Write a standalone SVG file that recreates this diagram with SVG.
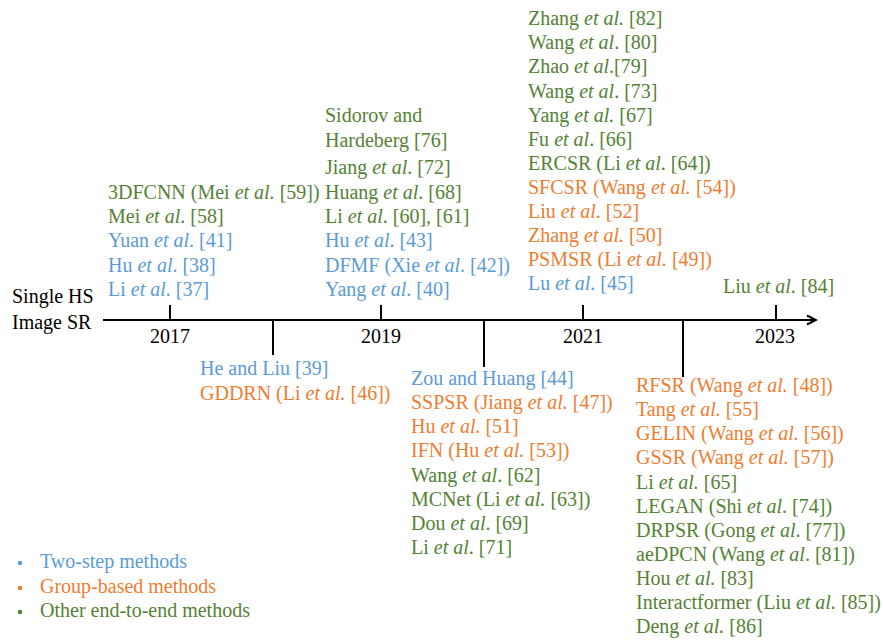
<svg xmlns="http://www.w3.org/2000/svg" width="883" height="641" viewBox="0 0 883 641">
<defs>
<marker id="arr" markerWidth="12" markerHeight="12" refX="10" refY="6" orient="auto" markerUnits="userSpaceOnUse">
<path d="M1,1.5 L10,6 L1,10.5" fill="none" stroke="#000" stroke-width="2"/>
</marker>
</defs>
<style>
text{font-family:"Liberation Serif","Times New Roman",serif;font-size:20px}
.k{fill:#000}
.b{fill:#5B9BD5}
.o{fill:#ED7D31}
.g{fill:#548235}
.i{font-style:italic}
.ln{stroke:#000;stroke-width:2;fill:none}
.mid{text-anchor:middle}
</style>
<rect width="883" height="641" fill="#fff"/>
<g id="connectors">
<path class="ln" d="M103,320 H816" marker-end="url(#arr)"/>
<path class="ln" d="M170,305 V320"/>
<path class="ln" d="M381,305 V320"/>
<path class="ln" d="M583,305 V320"/>
<path class="ln" d="M776,305 V320"/>
<path class="ln" d="M273,320 V355"/>
<path class="ln" d="M484,320 V367"/>
<path class="ln" d="M683,320 V377"/>
</g>
<g id="title">
<text class="k" x="12" y="303">Single HS</text>
<text class="k" x="12" y="329">Image SR</text>
</g>
<g id="years">
<text class="k mid" x="170" y="343">2017</text>
<text class="k mid" x="381" y="343">2019</text>
<text class="k mid" x="583" y="343">2021</text>
<text class="k mid" x="775" y="343">2023</text>
</g>
<g id="col2017">
<text class="g" x="108" y="199">3DFCNN (Mei <tspan class="i">et al.</tspan> [59])</text>
<text class="g" x="108" y="223">Mei <tspan class="i">et al</tspan>. [58]</text>
<text class="b" x="108" y="247">Yuan <tspan class="i">et al</tspan>. [41]</text>
<text class="b" x="108" y="272">Hu <tspan class="i">et al</tspan>. [38]</text>
<text class="b" x="108" y="296">Li <tspan class="i">et al</tspan>. [37]</text>
</g>
<g id="col2019">
<text class="g" x="325" y="121.5">Sidorov and</text>
<text class="g" x="325" y="146.5">Hardeberg [76]</text>
<text class="g" x="325" y="174">Jiang <tspan class="i">et al</tspan>. [72]</text>
<text class="g" x="325" y="199">Huang <tspan class="i">et al</tspan>. [68]</text>
<text class="g" x="325" y="223">Li <tspan class="i">et al</tspan>. [60], [61]</text>
<text class="b" x="325" y="247">Hu <tspan class="i">et al</tspan>. [43]</text>
<text class="b" x="325" y="272">DFMF (Xie <tspan class="i">et al</tspan>. [42])</text>
<text class="b" x="325" y="296">Yang <tspan class="i">et al</tspan>. [40]</text>
</g>
<g id="col2021">
<text class="g" x="528" y="25">Zhang <tspan class="i">et al.</tspan> [82]</text>
<text class="g" x="528" y="49">Wang <tspan class="i">et al</tspan>. [80]</text>
<text class="g" x="528" y="73">Zhao <tspan class="i">et al</tspan>.[79]</text>
<text class="g" x="528" y="98">Wang <tspan class="i">et al</tspan>. [73]</text>
<text class="g" x="528" y="122">Yang <tspan class="i">et al.</tspan> [67]</text>
<text class="g" x="528" y="146">Fu <tspan class="i">et al</tspan>. [66]</text>
<text class="g" x="528" y="170">ERCSR (Li <tspan class="i">et al</tspan>. [64])</text>
<text class="o" x="528" y="194">SFCSR (Wang <tspan class="i">et al.</tspan> [54])</text>
<text class="o" x="528" y="218">Liu <tspan class="i">et al</tspan>. [52]</text>
<text class="o" x="528" y="242">Zhang <tspan class="i">et al.</tspan> [50]</text>
<text class="o" x="528" y="266">PSMSR (Li <tspan class="i">et al.</tspan> [49])</text>
<text class="b" x="528" y="290">Lu <tspan class="i">et al</tspan>. [45]</text>
</g>
<g id="col2023">
<text class="g" x="723" y="293">Liu <tspan class="i">et al</tspan>. [84]</text>
</g>
<g id="below2018">
<text class="b" x="200" y="375">He and Liu [39]</text>
<text class="o" x="200" y="400">GDDRN (Li <tspan class="i">et al.</tspan> [46])</text>
</g>
<g id="below2020">
<text class="b" x="411" y="385">Zou and Huang [44]</text>
<text class="o" x="411" y="409">SSPSR (Jiang <tspan class="i">et al.</tspan> [47])</text>
<text class="o" x="411" y="433">Hu <tspan class="i">et al.</tspan> [51]</text>
<text class="o" x="411" y="457">IFN (Hu <tspan class="i">et al.</tspan> [53])</text>
<text class="g" x="411" y="482">Wang <tspan class="i">et al</tspan>. [62]</text>
<text class="g" x="411" y="506">MCNet (Li <tspan class="i">et al.</tspan> [63])</text>
<text class="g" x="411" y="530">Dou <tspan class="i">et al</tspan>. [69]</text>
<text class="g" x="411" y="554">Li <tspan class="i">et al</tspan>. [71]</text>
</g>
<g id="below2022">
<text class="o" x="636" y="392">RFSR (Wang <tspan class="i">et al.</tspan> [48])</text>
<text class="o" x="636" y="416">Tang <tspan class="i">et al.</tspan> [55]</text>
<text class="o" x="636" y="440">GELIN (Wang <tspan class="i">et al.</tspan> [56])</text>
<text class="o" x="636" y="464">GSSR (Wang <tspan class="i">et al.</tspan> [57])</text>
<text class="g" x="636" y="489">Li <tspan class="i">et al.</tspan> [65]</text>
<text class="g" x="636" y="513">LEGAN (Shi <tspan class="i">et al</tspan>. [74])</text>
<text class="g" x="636" y="537">DRPSR (Gong <tspan class="i">et al</tspan>. [77])</text>
<text class="g" x="636" y="561">aeDPCN (Wang <tspan class="i">et al</tspan>. [81])</text>
<text class="g" x="636" y="585">Hou <tspan class="i">et al.</tspan> [83]</text>
<text class="g" x="636" y="609">Interactformer (Liu <tspan class="i">et al.</tspan> [85])</text>
<text class="g" x="636" y="633">Deng <tspan class="i">et al.</tspan> [86]</text>
</g>
<g id="legend">
<circle cx="20" cy="563" r="2.3" fill="#5B9BD5"/>
<text class="b" x="40" y="568">Two-step methods</text>
<circle cx="20" cy="588" r="2.3" fill="#ED7D31"/>
<text class="o" x="40" y="593">Group-based methods</text>
<circle cx="20" cy="612" r="2.3" fill="#548235"/>
<text class="g" x="40" y="617">Other end-to-end methods</text>
</g>
</svg>
